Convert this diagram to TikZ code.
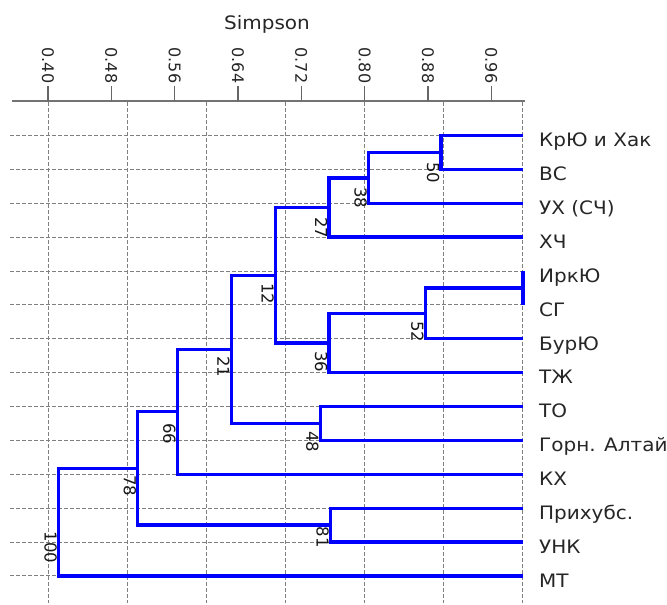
\documentclass[tikz,border=0pt]{standalone}
\usepackage{fontspec}
\setmainfont{DejaVu Sans}
\newfontfamily\widefont{DejaVu Sans}[FakeStretch=1.08]
\begin{document}
\def\Y#1{135.5+33.88*(#1-1)}
\begin{tikzpicture}[x=1pt,y=-1pt,
  gridline/.style={draw=black!50, line width=0.9pt, dash pattern=on 3.5pt off 2.5pt},
  axisline/.style={draw=black!55, line width=1.9pt},
  tickmark/.style={draw=black!60, line width=1.3pt},
  br/.style={draw=blue, line width=3.3pt, line join=miter},
  boot/.style={rotate=-90, anchor=north, inner sep=0pt, font=\fontsize{16.5}{16.5}\selectfont, text=black!90},
  ticklab/.style={rotate=-90, anchor=east, inner sep=0pt, font=\fontsize{16}{16}\selectfont, text=black!85},
  leaflab/.style={anchor=base west, inner sep=0pt, font=\widefont\fontsize{18.5}{18.5}\selectfont, text=black!85},
]
\useasboundingbox[fill=white] (0,0) rectangle (667,605);

% grid
\foreach \i in {1,...,14} \draw[gridline] (10,{\Y{\i}}) -- (523,{\Y{\i}});
\foreach \k in {0,...,6} \draw[gridline] ({48+79.15*\k},102) -- ({48+79.15*\k},603);

% axis
\draw[axisline] (12,101) -- (525,101);
\foreach \k/\lab in {0/0.40,1/0.48,2/0.56,3/0.64,4/0.72,5/0.80,6/0.88,7/0.96}{
  \draw[tickmark] ({48+63.32*\k},101) -- ({48+63.32*\k},86);
  \node[ticklab] (tk\k) at ({48+63.32*\k},83.5) {\lab};
}
\node[anchor=base, inner sep=0pt, font=\widefont\fontsize{18.5}{18.5}\selectfont, text=black!85] (title) at (267,30) {Simpson};

% leaves
\foreach \i/\name in {1/КрЮ и Хак,2/ВС,3/УХ (СЧ),4/ХЧ,5/ИркЮ,6/СГ,7/БурЮ,8/ТЖ,9/ТО,10/Горн. Алтай,11/КХ,12/Прихубс.,13/УНК,14/МТ}{
  \coordinate (l\i) at (523,{\Y{\i}});
  \node[leaflab] (t\i) at (539,{\Y{\i}+11.3}) {\name};
}

% internal nodes
\coordinate (n50) at (441,{\Y{1.5}});
\coordinate (n38) at (368.5,{\Y{2.25}});
\coordinate (n27) at (329,{\Y{3.125}});
\coordinate (nIS) at (523,{\Y{5.5}});
\coordinate (n52) at (425.3,{\Y{6.25}});
\coordinate (n36) at (329,{\Y{7.125}});
\coordinate (n12) at (275.5,{\Y{5.125}});
\coordinate (n48) at (320.2,{\Y{9.5}});
\coordinate (n21) at (231.4,{\Y{7.3125}});
\coordinate (n66) at (177.3,{\Y{9.15625}});
\coordinate (n81) at (330.6,{\Y{12.5}});
\coordinate (n78) at (137.7,{\Y{10.828}});
\coordinate (n100) at (58.5,{\Y{12.414}});

% branches
\draw[br] (l1) -| (n50) |- (l2);
\draw[br] (n50) -| (n38) |- (l3);
\draw[br] (n38) -| (n27) |- (l4);
\draw[br] (l5) -- (l6);
\draw[br] (nIS) -| (n52) |- (l7);
\draw[br] (n52) -| (n36) |- (l8);
\draw[br] (n27) -| (n12) |- (n36);
\draw[br] (l9) -| (n48) |- (l10);
\draw[br] (n12) -| (n21) |- (n48);
\draw[br] (n21) -| (n66) |- (l11);
\draw[br] (l12) -| (n81) |- (l13);
\draw[br] (n66) -| (n78) |- (n81);
\draw[br] (n78) -| (n100) |- (l14);

% bootstrap values
\node[boot] (b50) at (439.5,173) {50};
\node[boot] (b38) at (367,198) {38};
\node[boot] (b27) at (327.5,227.5) {27};
\node[boot] (b12) at (274,293.5) {12};
\node[boot] (b52) at (423.8,332) {52};
\node[boot] (b36) at (327.5,362) {36};
\node[boot] (b21) at (229.9,366.5) {21};
\node[boot] (b48) at (318.7,441.6) {48};
\node[boot] (b66) at (175.8,433.5) {66};
\node[boot] (b78) at (136.2,485.6) {78};
\node[boot] (b81) at (329.1,537) {81};
\node[boot] (b100) at (57,547.5) {100};
\end{tikzpicture}
\end{document}
